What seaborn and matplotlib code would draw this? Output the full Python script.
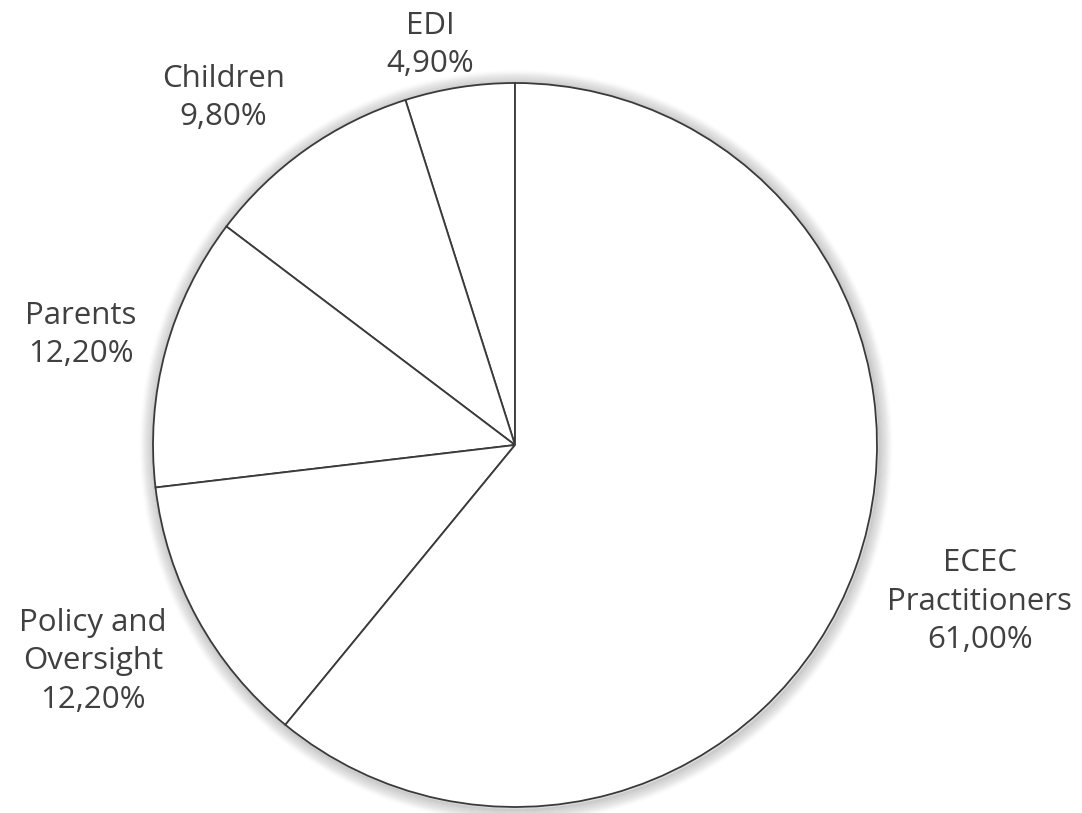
import matplotlib
matplotlib.use("Agg")
import matplotlib.pyplot as plt
import seaborn as sns
import numpy as np
from matplotlib.patches import Circle

categories = ["EDI", "Children", "Parents", "Policy and\nOversight", "ECEC\nPractitioners"]
values = [4.9, 9.8, 12.2, 12.2, 61.0]
value_labels = ["4,90%", "9,80%", "12,20%", "12,20%", "61,00%"]

sns.set_theme(style="white")
plt.rcParams['font.family'] = ['Open Sans', 'DejaVu Sans']

fig = plt.figure(figsize=(10.82, 8.13), dpi=100)
ax = fig.add_axes([0, 0, 1, 1])

# soft shadow glow
for i in range(16):
    r = 1.0 + 0.0025 * i
    ax.add_patch(Circle((0.003, -0.004), r, facecolor='none', edgecolor='black',
                        linewidth=2.2, alpha=0.07 * (1 - i / 16), zorder=0))

wedges, _ = ax.pie(values, startangle=90, counterclock=True,
                   colors=['white'] * len(values),
                   wedgeprops=dict(edgecolor='#3a3a3a', linewidth=1.3),
                   radius=1.0, frame=True)
ax.set_xlim(-1.4227, 1.5663)
ax.set_ylim(-1.0166, 1.2293)
ax.set_aspect('equal')
ax.axis('off')

label_r = [1.13, 1.253, 1.237, 1.31, 1.355]
ang_off = [3.2, 4.8, 1.0, -1.55, 1.07]
for w, cat, lab, lr, ao in zip(wedges, categories, value_labels, label_r, ang_off):
    mid = np.deg2rad((w.theta1 + w.theta2) / 2 + ao)
    x, y = lr * np.cos(mid), lr * np.sin(mid)
    ax.text(x, y, f"{cat}\n{lab}", ha='center', va='center', fontsize=22.5,
            color='#404040', linespacing=1.36)

fig.savefig("out.png", dpi=100)
